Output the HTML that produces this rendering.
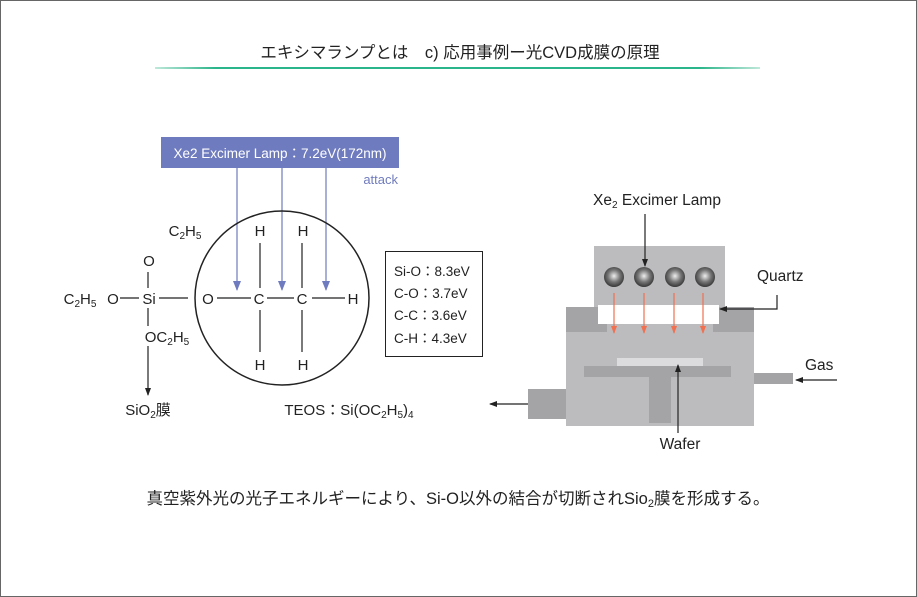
<!DOCTYPE html>
<html><head><meta charset="utf-8"><style>
body{margin:0;background:#fff}
svg{display:block;font-family:"Liberation Sans","Noto Sans CJK JP",sans-serif}
</style></head><body>
<svg width="917" height="597" viewBox="0 0 917 597" xmlns="http://www.w3.org/2000/svg">
<defs>
<marker id="a" markerWidth="8" markerHeight="8" refX="7" refY="4" orient="auto" markerUnits="userSpaceOnUse"><path d="M0,1 L8,4 L0,7z" fill="#222"/></marker>
<marker id="b" markerWidth="10" markerHeight="10" refX="9" refY="5" orient="auto" markerUnits="userSpaceOnUse"><path d="M0,1 L10,5 L0,9z" fill="#6f7bbf"/></marker>
<marker id="o" markerWidth="8" markerHeight="8" refX="7" refY="4" orient="auto" markerUnits="userSpaceOnUse"><path d="M0,1 L8,4 L0,7z" fill="#f07050"/></marker>
<radialGradient id="g" cx="0.5" cy="0.45" r="0.6"><stop offset="0" stop-color="#eee"/><stop offset="0.5" stop-color="#777"/><stop offset="1" stop-color="#2a2a2a"/></radialGradient>
<linearGradient id="ln" x1="0" x2="1"><stop offset="0" stop-color="#bfe8da"/><stop offset="0.1" stop-color="#2bb58a"/><stop offset="0.9" stop-color="#2bb58a"/><stop offset="1" stop-color="#bfe8da"/></linearGradient>
</defs>
<rect x="0.5" y="0.5" width="916" height="596" fill="#fff" stroke="#666"/>
<text x="460" y="58" font-size="16.5" text-anchor="middle" fill="#222">エキシマランプとは　c) 応用事例ー光CVD成膜の原理</text>
<rect x="155" y="67" width="605" height="2" fill="url(#ln)"/>

<rect x="161" y="137" width="238" height="31" fill="#6f7bbf"/>
<text x="280" y="158" font-size="13.5" fill="#fff" text-anchor="middle">Xe2 Excimer Lamp：7.2eV(172nm)</text>
<text x="398" y="184" font-size="13" fill="#6f7bbf" text-anchor="end">attack</text>
<g stroke="#6f7bbf" stroke-width="1.2" marker-end="url(#b)">
<line x1="237" y1="168" x2="237" y2="290"/><line x1="282" y1="168" x2="282" y2="290"/><line x1="326" y1="168" x2="326" y2="290"/>
</g>
<ellipse cx="282" cy="298" rx="87" ry="87" fill="none" stroke="#222" stroke-width="1.5"/>
<g font-size="15" fill="#222" text-anchor="middle">
<text x="260" y="236">H</text><text x="303" y="236">H</text>
<text x="208" y="304">O</text><text x="259" y="304">C</text><text x="302" y="304">C</text><text x="353" y="304">H</text>
<text x="260" y="370">H</text><text x="303" y="370">H</text>
<text x="185" y="236">C<tspan font-size="10" dy="3">2</tspan><tspan dy="-3">H</tspan><tspan font-size="10" dy="3">5</tspan></text>
<text x="80" y="304">C<tspan font-size="10" dy="3">2</tspan><tspan dy="-3">H</tspan><tspan font-size="10" dy="3">5</tspan></text>
<text x="113" y="304">O</text><text x="149" y="304">Si</text><text x="149" y="266">O</text>
<text x="167" y="342">OC<tspan font-size="10" dy="3">2</tspan><tspan dy="-3">H</tspan><tspan font-size="10" dy="3">5</tspan></text>
<text x="148" y="415">SiO<tspan font-size="10" dy="3">2</tspan><tspan dy="-3">膜</tspan></text>
<text x="349" y="415">TEOS：Si(OC<tspan font-size="10" dy="3">2</tspan><tspan dy="-3">H</tspan><tspan font-size="10" dy="3">5</tspan><tspan dy="-3">)</tspan><tspan font-size="10" dy="3">4</tspan></text>
</g>
<g stroke="#222" stroke-width="1.2">
<line x1="120" y1="298" x2="139" y2="298"/><line x1="159" y1="298" x2="188" y2="298"/>
<line x1="148" y1="272" x2="148" y2="288"/><line x1="148" y1="308" x2="148" y2="326"/>
<line x1="217" y1="298" x2="251" y2="298"/><line x1="267" y1="298" x2="294" y2="298"/><line x1="312" y1="298" x2="345" y2="298"/>
<line x1="260" y1="243" x2="260" y2="288"/><line x1="302" y1="243" x2="302" y2="288"/>
<line x1="260" y1="310" x2="260" y2="352"/><line x1="302" y1="310" x2="302" y2="352"/>
<line x1="148" y1="346" x2="148" y2="395" marker-end="url(#a)"/>
</g>
<rect x="385.5" y="251.5" width="97" height="105" fill="none" stroke="#222"/>
<g font-size="13.5" fill="#222">
<text x="394" y="276">Si-O：8.3eV</text><text x="394" y="298">C-O：3.7eV</text>
<text x="394" y="320">C-C：3.6eV</text><text x="394" y="343">C-H：4.3eV</text>
</g>

<rect x="594" y="246" width="131" height="62" fill="#bcbcbf"/>
<rect x="566" y="307" width="188" height="119" fill="#bcbcbf"/>
<rect x="566" y="307" width="41" height="25" fill="#a4a4a7"/>
<rect x="713" y="307" width="41" height="25" fill="#a4a4a7"/>
<rect x="598" y="305" width="121" height="19" fill="#fff"/>
<g fill="url(#g)"><circle cx="614" cy="277" r="10"/><circle cx="644" cy="277" r="10"/><circle cx="675" cy="277" r="10"/><circle cx="705" cy="277" r="10"/></g>
<g stroke="#f07050" stroke-width="1.2" marker-end="url(#o)">
<line x1="614" y1="293" x2="614" y2="333"/><line x1="644" y1="293" x2="644" y2="333"/><line x1="674" y1="293" x2="674" y2="333"/><line x1="703" y1="293" x2="703" y2="333"/>
</g>
<rect x="617" y="358" width="86" height="8" fill="#dcdcde"/>
<rect x="584" y="366" width="147" height="11" fill="#a4a4a7"/>
<rect x="649" y="377" width="22" height="46" fill="#a4a4a7"/>
<rect x="528" y="389" width="38" height="30" fill="#a4a4a7"/>
<rect x="754" y="373" width="39" height="11" fill="#a4a4a7"/>
<g stroke="#222" stroke-width="1.2" fill="none">
<line x1="528" y1="404" x2="490" y2="404" marker-end="url(#a)"/>
<line x1="837" y1="380" x2="796" y2="380" marker-end="url(#a)"/>
<polyline points="777,295 777,309 720,309" marker-end="url(#a)"/>
<line x1="645" y1="214" x2="645" y2="266" marker-end="url(#a)"/>
<line x1="678" y1="433" x2="678" y2="365" marker-end="url(#a)"/>
</g>
<g font-size="15.5" fill="#222">
<text x="657" y="205" text-anchor="middle">Xe<tspan font-size="10" dy="3">2</tspan><tspan dy="-3"> Excimer Lamp</tspan></text>
<text x="757" y="281">Quartz</text>
<text x="805" y="370">Gas</text>
<text x="680" y="449" text-anchor="middle">Wafer</text>
</g>
<text x="458" y="504" font-size="16.5" fill="#222" text-anchor="middle">真空紫外光の光子エネルギーにより、Si-O以外の結合が切断されSio<tspan font-size="11" dy="3">2</tspan><tspan dy="-3">膜を形成する。</tspan></text>
</svg>
</body></html>
